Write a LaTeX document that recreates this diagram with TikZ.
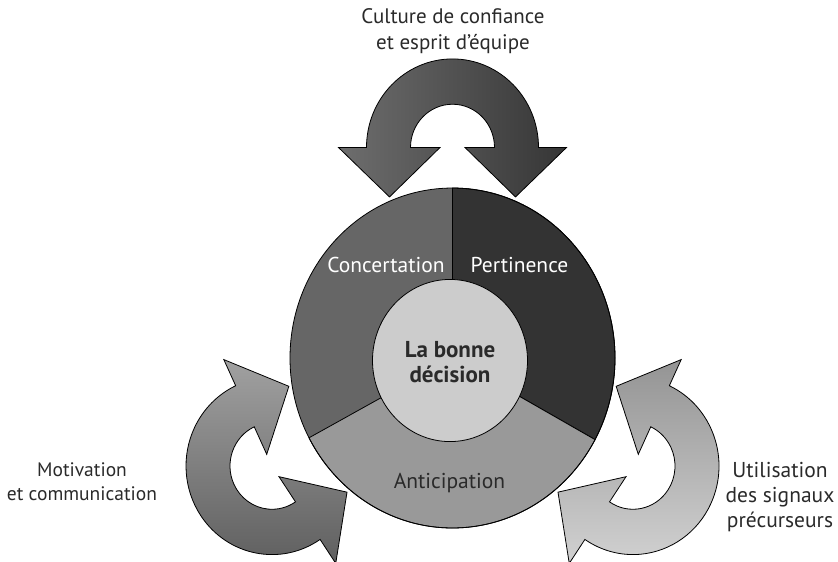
\documentclass[tikz,border=0pt]{standalone}
\usepackage{fontspec}
\setmainfont{PT Sans}
\definecolor{concertfill}{HTML}{666666}
\definecolor{pertfill}{HTML}{333333}
\definecolor{anticfill}{HTML}{999999}
\definecolor{corefill}{HTML}{CCCCCC}
\definecolor{darktext}{HTML}{2A2A2A}
\begin{document}
\begin{tikzpicture}[x=1pt,y=-1pt,
  rim/.style={draw=black,line width=0.8pt},
  ringtext/.style={font=\fontsize{21.5}{25}\selectfont,text=white},
  coretext/.style={align=center,font=\fontsize{23}{25}\selectfont\bfseries,text=darktext},
  sidetext/.style={align=center,font=\fontsize{21}{26}\selectfont,text=darktext}]
\useasboundingbox (0,0) rectangle (838,562);

\begin{scope}[shift={(452.5,147.5)},yscale=1.03]
\draw[rim,left color=black!57,right color=black!79] (180:86) arc[start angle=180,end angle=360,radius=86] -- (360:114) -- (397.3:79.2) -- (360:12.5) -- (360:42) arc[start angle=360,end angle=180,radius=42] -- (180:12.5) -- (142.7:79.2) -- (180:114) -- cycle;
\end{scope}
\begin{scope}[shift={(272,466)},yscale=1.03]
\draw[rim,top color=black!37,bottom color=black!63] (56:86) arc[start angle=56,end angle=245,radius=86] -- (245:114) -- (282.3:79.2) -- (245:12.5) -- (245:42) arc[start angle=245,end angle=56,radius=42] -- (56:12.5) -- (18.7:79.2) -- (56:114) -- cycle;
\end{scope}
\begin{scope}[shift={(633,466)},yscale=1.03]
\draw[rim,top color=black!42,bottom color=black!18] (-65:86) arc[start angle=-65,end angle=124,radius=86] -- (124:114) -- (161.3:79.2) -- (124:12.5) -- (124:42) arc[start angle=124,end angle=-65,radius=42] -- (-65:12.5) -- (-102.3:79.2) -- (-65:114) -- cycle;
\end{scope}

\begin{scope}[shift={(452.5,358)},yscale=1.046]
\fill[concertfill] (0,0) circle (162.5);
\filldraw[rim,fill=pertfill] (0,0) -- (-90:162.5) arc[start angle=-90,end angle=28.7,radius=162.5] -- cycle;
\filldraw[rim,fill=anticfill] (0,0) -- (28.7:162.5) arc[start angle=28.7,end angle=152,radius=162.5] -- cycle;
\filldraw[rim,fill=corefill] (-2.5,2.4) circle (77.5);
\draw[rim] (0,0) circle (162.5);
\end{scope}

\node[ringtext] (concertation) at (386,265) {Concertation};
\node[ringtext] (pertinence) at (519.5,265) {Pertinence};
\node[ringtext,text=darktext] (anticipation) at (449.5,483) {Anticipation};
\node[coretext] (decision) at (450,362) {La bonne\\décision};
\node[sidetext] (culture) at (453,31) {Culture de confiance\\et esprit d’équipe};
\node[sidetext,font=\fontsize{19.5}{24}\selectfont] (motivation) at (82,482) {Motivation\\et communication};
\node[sidetext,font=\fontsize{21.5}{25}\selectfont] (signaux) at (780,497) {Utilisation\\des signaux\\précurseurs};
\end{tikzpicture}
\end{document}
